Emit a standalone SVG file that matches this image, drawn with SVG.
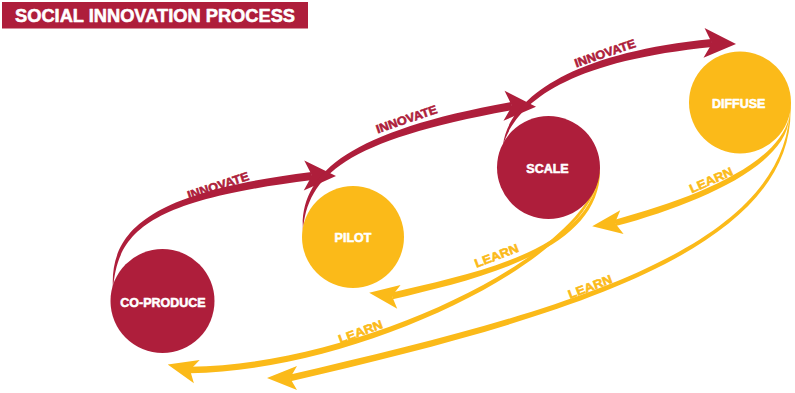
<svg xmlns="http://www.w3.org/2000/svg" xmlns:xlink="http://www.w3.org/1999/xlink" width="795" height="393" viewBox="0 0 795 393">
<style>
.r{fill:#AE1E3B}
.y{fill:#FBBA19}
.t{font-family:"Liberation Sans",Arial,sans-serif;font-weight:bold;stroke-width:0.55px;stroke-linejoin:round}
.nl{font-size:12.5px;fill:#fff;stroke:#fff;text-anchor:middle}
.al{font-size:12px;text-anchor:middle}
.al.r{stroke:#AE1E3B}
.al.y{stroke:#FBBA19}
</style>
<defs>
<path id="hr" d="M0,0L-32,-15L-24,0L-32,15Z"/>
<path id="hy" d="M0,0L-30,-12L-23,0L-30,12Z"/>
</defs>
<rect width="795" height="393" fill="#fff"/>
<g id="title">
<rect x="2" y="2" width="306" height="26.5" class="r"/>
<text class="t" x="15" y="21.7" font-size="18" fill="#fff" stroke="#fff" stroke-width="0.7" textLength="280" lengthAdjust="spacingAndGlyphs">SOCIAL INNOVATION PROCESS</text>
</g>
<g id="connectors">
<g id="innovate-1">
<path class="r" d="M113,290C109,230 149.5,192 311.5,172L312.5,180C150.5,200 117,230 113,290Z"/>
<use xlink:href="#hr" href="#hr" class="r" transform="translate(336,176) rotate(1)"/>
<text class="t al r" transform="translate(218,185.5) rotate(-18)" y="4.3" textLength="64" lengthAdjust="spacingAndGlyphs">INNOVATE</text>
</g>
<g id="innovate-2">
<path class="r" d="M303,232C299,175 344.3,132.1 511.3,102.1L512.7,109.9C345.7,139.9 307,175 303,232Z"/>
<use xlink:href="#hr" href="#hr" class="r" transform="translate(536,106.8) rotate(2)"/>
<text class="t al r" transform="translate(406.5,119) rotate(-19)" y="4.3" textLength="64" lengthAdjust="spacingAndGlyphs">INNOVATE</text>
</g>
<g id="innovate-3">
<path class="r" d="M503,145C508.1,104.1 559.6,54 711.6,39L712.4,47C560.4,62 515.9,105.9 503,145Z"/>
<use xlink:href="#hr" href="#hr" class="r" transform="translate(736,44) rotate(2)"/>
<text class="t al r" transform="translate(605,53) rotate(-19)" y="4.3" textLength="64" lengthAdjust="spacingAndGlyphs">INNOVATE</text>
</g>
<g id="learn-diffuse-scale">
<path class="y" d="M789,118C786.45,165.66 697.8,204.1 615.8,226.1L614.2,219.9C696.2,197.9 777.55,164.34 789,118Z"/>
<use xlink:href="#hy" href="#hy" class="y" transform="translate(592.2,226.2) rotate(172)"/>
<text class="t al y" transform="translate(711,180) rotate(-24)" y="4.3" textLength="46" lengthAdjust="spacingAndGlyphs">LEARN</text>
</g>
<g id="learn-scale-pilot">
<path class="y" d="M600,168C602.5,250.1 480.75,278.2 392.75,299.2L391.25,292.8C479.25,271.8 593.5,249.9 600,168Z"/>
<use xlink:href="#hy" href="#hy" class="y" transform="translate(369.2,292.8) rotate(188)"/>
<text class="t al y" transform="translate(496.5,255.5) rotate(-21)" y="4.3" textLength="46" lengthAdjust="spacingAndGlyphs">LEARN</text>
</g>
<g id="learn-scale-coproduce">
<path class="y" d="M600,168C600.5,255.2 360,371.25 190,373.25L190,366.75C360,364.75 591.5,254.8 600,168Z"/>
<use xlink:href="#hy" href="#hy" class="y" transform="translate(167.7,364.4) rotate(194)"/>
<text class="t al y" transform="translate(360.5,331.5) rotate(-20)" y="4.3" textLength="46" lengthAdjust="spacingAndGlyphs">LEARN</text>
</g>
<g id="learn-diffuse-pilot">
<path class="y" d="M790,98C804.5,249.7 560.7,318.2 290.7,381.2L289.3,374.8C559.3,311.8 795.5,250.3 790,98Z"/>
<use xlink:href="#hy" href="#hy" class="y" transform="translate(267,378) rotate(180)"/>
<text class="t al y" transform="translate(590,286.5) rotate(-21)" y="4.3" textLength="46" lengthAdjust="spacingAndGlyphs">LEARN</text>
</g>
</g>
<g id="node-coproduce">
<circle cx="162.5" cy="301" r="52" class="r"/>
<text class="t nl" x="163" y="306.7">CO-PRODUCE</text>
</g>
<g id="node-pilot">
<circle cx="353" cy="237" r="51" class="y"/>
<text class="t nl" x="353" y="241.7">PILOT</text>
</g>
<g id="node-scale">
<circle cx="548.5" cy="167.5" r="51.5" class="r"/>
<text class="t nl" x="547.5" y="173">SCALE</text>
</g>
<g id="node-diffuse">
<circle cx="740" cy="102.5" r="51" class="y"/>
<text class="t nl" x="738.7" y="108">DIFFUSE</text>
</g>
</svg>
